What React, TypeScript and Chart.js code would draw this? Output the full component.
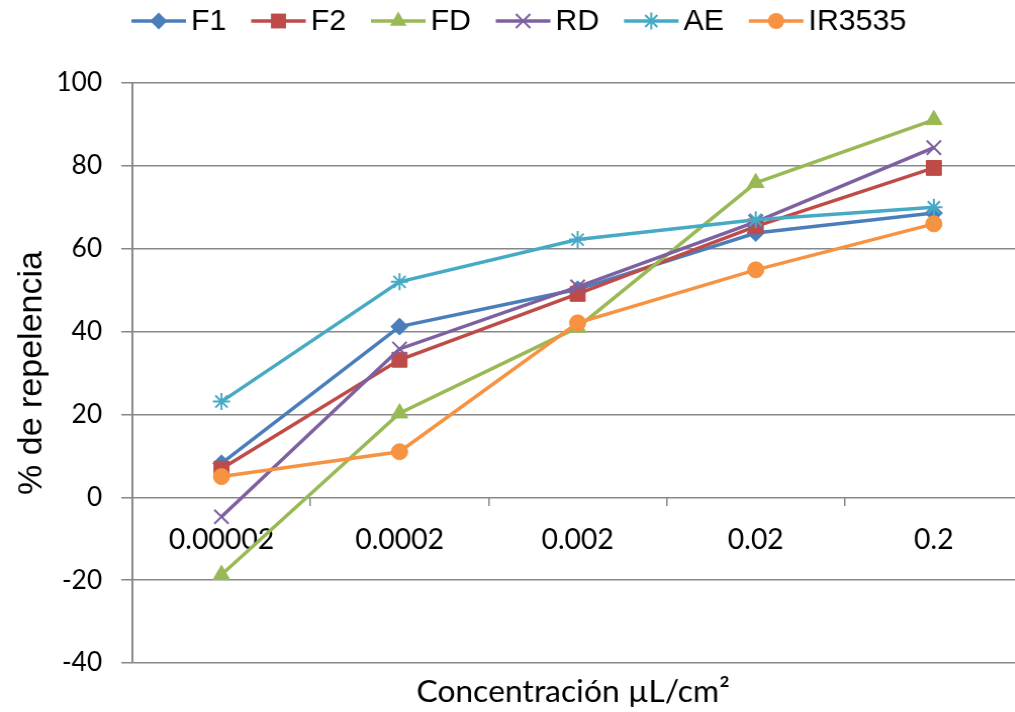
import React, { useEffect, useRef } from 'react';
import { Chart, registerables } from 'chart.js';

Chart.register(...registerables);

// ---- data ----
const categories = ['0.00002', '0.0002', '0.002', '0.02', '0.2'];
const seriesNames = ['F1', 'F2', 'FD', 'RD', 'AE', 'IR3535'];
const f1Values = [8.2, 41.2, 50.2, 63.8, 68.6];
const f2Values = [6.9, 33.2, 49.1, 65.4, 79.5];
const fdValues = [-18.7, 20.3, 41.0, 75.9, 91.1];
const rdValues = [-4.7, 35.8, 50.8, 66.5, 84.4];
const aeValues = [23.1, 52.0, 62.2, 67.0, 70.0];
const irValues = [5.0, 11.0, 42.1, 54.9, 66.0];
const yMin = -40;
const yMax = 100;
const yStep = 20;
const xTitle = 'Concentración µL/cm²';
const yTitle = '% de repelencia';

const seriesValues = [f1Values, f2Values, fdValues, rdValues, aeValues, irValues];
const seriesColors = ['#4A7EBB', '#BE4B48', '#98B954', '#7D60A0', '#46AAC5', '#F69240'];
const seriesMarkers = ['rectRot', 'rect', 'triangle', 'crossRot', 'star', 'circle'];
const seriesRadii = [8.5, 10.5, 9.5, 10, 8.5, 8];

const GRID = '#878787';
const TARGET_RIGHT = 1023;

function drawMarker(ctx: CanvasRenderingContext2D, style: string, x: number, y: number, r: number, color: string) {
  ctx.save();
  ctx.fillStyle = color;
  ctx.strokeStyle = color;
  ctx.lineWidth = style === 'crossRot' || style === 'star' ? 2 : 1;
  ctx.beginPath();
  if (style === 'circle') {
    ctx.arc(x, y, r, 0, Math.PI * 2);
    ctx.fill();
  } else if (style === 'rect') {
    const h = r * Math.SQRT1_2;
    ctx.rect(x - h, y - h, 2 * h, 2 * h);
    ctx.fill();
  } else if (style === 'rectRot') {
    ctx.moveTo(x, y - r);
    ctx.lineTo(x + r, y);
    ctx.lineTo(x, y + r);
    ctx.lineTo(x - r, y);
    ctx.closePath();
    ctx.fill();
  } else if (style === 'triangle') {
    for (let i = 0; i < 3; i++) {
      const a = (i * 2 * Math.PI) / 3;
      const px = x + Math.sin(a) * r;
      const py = y - Math.cos(a) * r;
      if (i === 0) ctx.moveTo(px, py);
      else ctx.lineTo(px, py);
    }
    ctx.closePath();
    ctx.fill();
  } else if (style === 'crossRot' || style === 'star') {
    const d = r * Math.SQRT1_2;
    ctx.moveTo(x - d, y - d);
    ctx.lineTo(x + d, y + d);
    ctx.moveTo(x - d, y + d);
    ctx.lineTo(x + d, y - d);
    if (style === 'star') {
      ctx.moveTo(x, y - r);
      ctx.lineTo(x, y + r);
      ctx.moveTo(x - r, y);
      ctx.lineTo(x + r, y);
    }
    ctx.stroke();
  }
  ctx.restore();
}

const legendAndTitlePlugin = {
  id: 'lineMarkerLegend',
  afterDraw(chart: any) {
    const ctx: CanvasRenderingContext2D = chart.ctx;
    const area = chart.chartArea;
    ctx.save();
    // legend: line + marker + label, in a row at the top
    ctx.font = '30px "Liberation Sans", Arial, sans-serif';
    ctx.textBaseline = 'middle';
    ctx.textAlign = 'left';
    const y = 21;
    let x = 130;
    chart.data.datasets.forEach((ds: any) => {
      ctx.strokeStyle = ds.borderColor;
      ctx.lineWidth = 3.5;
      ctx.beginPath();
      ctx.moveTo(x, y);
      ctx.lineTo(x + 54, y);
      ctx.stroke();
      drawMarker(ctx, ds.pointStyle, x + 27, y, ds.pointRadius, ds.pointBackgroundColor);
      ctx.fillStyle = '#000';
      ctx.fillText(ds.label, x + 59, y + 1);
      x += 59 + ctx.measureText(ds.label).width + 24.5;
    });
    // x axis title below the plot
    ctx.font = '31.5px Lato, "Open Sans", sans-serif';
    ctx.textAlign = 'center';
    ctx.fillStyle = '#000';
    ctx.fillText(xTitle, area.left + 436, area.bottom + 29);
    ctx.restore();
  },
};

export default function App() {
  const ref = useRef<HTMLCanvasElement>(null);

  useEffect(() => {
    if (!ref.current) return;
    const datasets = seriesNames.map((name, i) => ({
      label: name,
      data: seriesValues[i],
      xAxisID: 'x',
      yAxisID: 'y',
      borderColor: seriesColors[i],
      backgroundColor: seriesColors[i],
      pointBackgroundColor: seriesColors[i],
      pointBorderColor: seriesColors[i],
      pointBorderWidth: seriesMarkers[i] === 'crossRot' || seriesMarkers[i] === 'star' ? 2 : 1,
      pointStyle: seriesMarkers[i],
      pointRadius: seriesRadii[i],
      borderWidth: 3.5,
      tension: 0,
      fill: false,
      order: seriesNames.length - 1 - i,
    }));

    const chart = new Chart(ref.current, {
      type: 'line',
      data: { labels: categories, datasets },
      options: {
        responsive: false,
        animation: false,
        devicePixelRatio: 1,
        layout: { padding: { top: 83, right: 1, left: 0, bottom: 49 } },
        plugins: { legend: { display: false }, tooltip: { enabled: false } },
        scales: {
          x: {
            type: 'category',
            position: { y: 0 } as any,
            offset: true,
            grid: { drawOnChartArea: false, offset: true, tickLength: 9, color: GRID, lineWidth: 1.5 },
            border: { display: false },
            ticks: {
              font: { family: 'Lato, "Open Sans", sans-serif', size: 28 },
              color: '#000',
              padding: 17,
              maxRotation: 0,
              autoSkip: false,
            },
          },
          y: {
            min: yMin,
            max: yMax,
            ticks: {
              stepSize: yStep,
              font: { family: 'Lato, "Open Sans", sans-serif', size: 26 },
              color: '#000',
              padding: 19,
            },
            grid: { color: GRID, lineWidth: 1.5, tickLength: 11 },
            border: { color: GRID, width: 2 },
            title: {
              display: true,
              text: yTitle,
              color: '#000',
              font: { family: '"Liberation Sans", Arial, sans-serif', size: 34 },
              padding: { top: 11, bottom: 0 },
            },
            afterFit: (s: any) => {
              s.width = 131;
            },
          },
        },
      },
      plugins: [legendAndTitlePlugin],
    } as any);

    // stretch the plot so its right edge sits just past the visible frame, as in the reference
    const extra = Math.round(TARGET_RIGHT - chart.chartArea.right);
    if (extra !== 0) {
      const canvas = ref.current;
      const w = canvas.width + extra;
      chart.resize(w, 712);
      canvas.style.width = w + 'px';
    }

    return () => chart.destroy();
  }, []);

  return (
    <div
      style={{
        position: 'fixed',
        left: 0,
        top: 0,
        width: 1015,
        height: 712,
        overflow: 'hidden',
        background: '#fff',
      }}
    >
      <canvas ref={ref} width={1024} height={712} style={{ width: 1024, height: 712, display: 'block' }} />
    </div>
  );
}
